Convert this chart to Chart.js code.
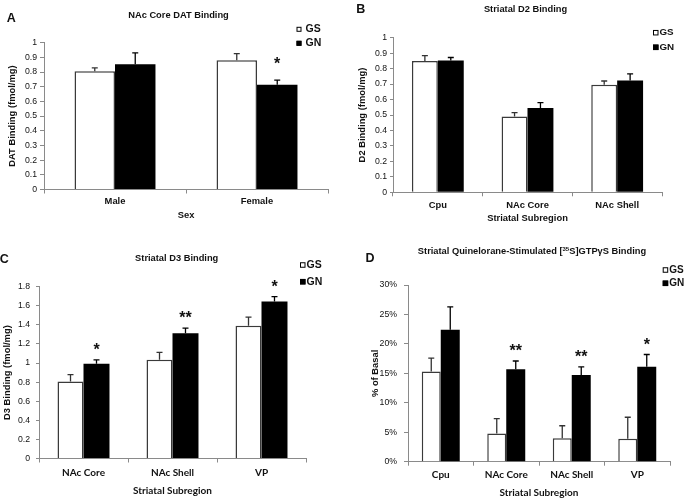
<!DOCTYPE html>
<html>
<head>
<meta charset="utf-8">
<script src="https://cdn.jsdelivr.net/npm/chart.js@4.4.1/dist/chart.umd.min.js"></script>
<style>
  body { margin: 0; background: #fff; }
  #wrap { position: relative; width: 685px; height: 499px; overflow: hidden; font-family: "Liberation Sans", Arial, sans-serif; color: #111; }
  canvas { position: absolute; }
  .judul { position: absolute; font-weight: bold; font-size: 9.3px; line-height: 1; white-space: nowrap; transform: translate(-50%, -50%); }
  .huruf { position: absolute; font-weight: bold; font-size: 12.5px; line-height: 1; transform: translate(-50%, -50%); }
  .judul sup { font-size: 6px; vertical-align: 3px; line-height: 0; }
</style>
</head>
<body>
<div id="wrap">
  <canvas id="chartA" width="342" height="250" style="left:0;top:0"></canvas>
  <canvas id="chartB" width="343" height="250" style="left:342px;top:0"></canvas>
  <canvas id="chartC" width="342" height="249" style="left:0;top:250px"></canvas>
  <canvas id="chartD" width="343" height="249" style="left:342px;top:250px"></canvas>

  <div class="huruf" style="left:11.2px;top:17.5px">A</div>
  <div class="huruf" style="left:360.8px;top:9.2px">B</div>
  <div class="huruf" style="left:4.2px;top:259.2px">C</div>
  <div class="huruf" style="left:370px;top:257.5px">D</div>

  <div class="judul" style="left:178.5px;top:16px">NAc Core DAT Binding</div>
  <div class="judul" style="left:525.5px;top:10px">Striatal D2 Binding</div>
  <div class="judul" style="left:176.7px;top:259px">Striatal D3 Binding</div>
  <div class="judul" style="left:532px;top:252px">Striatal Quinelorane-Stimulated [<sup>35</sup>S]GTPγS Binding</div>
</div>

<script>
// Data panel A: NAc Core DAT Binding
const sexLabels = ['Male', 'Female'];
const datGS = [0.806, 0.881];
const datGSErr = [0.023, 0.045];
const datGN = [0.854, 0.713];
const datGNErr = [0.077, 0.032];
const datGNSig = ['', '*'];

// Data panel B: Striatal D2 Binding
const d2Labels = ['Cpu', 'NAc Core', 'NAc Shell'];
const d2GS = [0.85, 0.49, 0.695];
const d2GSErr = [0.034, 0.026, 0.025];
const d2GN = [0.852, 0.546, 0.723];
const d2GNErr = [0.02, 0.034, 0.043];
const d2GNSig = ['', '', ''];

// Data panel C: Striatal D3 Binding
const d3Labels = ['NAc Core', 'NAc Shell', 'VP'];
const d3GS = [0.808, 1.034, 1.39];
const d3GSErr = [0.07, 0.077, 0.091];
const d3GN = [0.993, 1.313, 1.644];
const d3GNErr = [0.041, 0.053, 0.052];
const d3GNSig = ['*', '**', '*'];

// Data panel D: Quinelorane-stimulated GTPγS binding (% of basal)
const gtpLabels = ['Cpu', 'NAc Core', 'NAc Shell', 'VP'];
const gtpGS = [15.3, 4.8, 4.0, 3.9];
const gtpGSErr = [2.3, 2.5, 2.1, 3.65];
const gtpGN = [22.4, 15.7, 14.7, 16.1];
const gtpGNErr = [3.9, 1.4, 1.4, 2.1];
const gtpGNSig = ['', '**', '**', '*'];

// Label sumbu y
const yTicksTenth = ['0', '0.1', '0.2', '0.3', '0.4', '0.5', '0.6', '0.7', '0.8', '0.9', '1'];
const yTicksD3 = ['0', '0.2', '0.4', '0.6', '0.8', '1', '1.2', '1.4', '1.6', '1.8'];
const yTicksPct = ['0%', '5%', '10%', '15%', '20%', '25%', '30%'];

const ARIAL = '"Liberation Sans", Arial, sans-serif';
const axisColor = '#8a8a8a';
const textColor = '#111';

// Plugin untuk error bar dan tanda signifikansi
const errorBarPlugin = {
    id: 'errorBars',
    afterDatasetsDraw(chart, args, opts) {
        const ctx = chart.ctx;
        const yScale = chart.scales.y;
        chart.data.datasets.forEach((ds, di) => {
            const meta = chart.getDatasetMeta(di);
            meta.data.forEach((bar, i) => {
                const v = ds.data[i];
                const yBar = yScale.getPixelForValue(v);
                const yTop = yScale.getPixelForValue(v + ds.errors[i]);
                ctx.save();
                ctx.strokeStyle = ds.borderColor === '#000' ? '#000' : '#333';
                ctx.lineWidth = 1.3;
                ctx.beginPath();
                ctx.moveTo(bar.x, yBar);
                ctx.lineTo(bar.x, yTop);
                ctx.moveTo(bar.x - 3, yTop);
                ctx.lineTo(bar.x + 3, yTop);
                ctx.stroke();
                if (ds.sig && ds.sig[i]) {
                    ctx.fillStyle = textColor;
                    ctx.font = 'bold ' + opts.starSize + 'px ' + ARIAL;
                    ctx.textAlign = 'center';
                    ctx.textBaseline = 'alphabetic';
                    ctx.fillText(ds.sig[i], bar.x, yTop - opts.starGap + 0.57 * opts.starSize);
                }
                ctx.restore();
            });
        });
    }
};

// Plugin legenda kotak kecil (GS / GN)
const boxLegendPlugin = {
    id: 'boxLegend',
    afterDraw(chart, args, opts) {
        const ctx = chart.ctx;
        const s = opts.size;
        ctx.save();
        ctx.font = 'bold ' + opts.fontSize + 'px ' + ARIAL;
        ctx.textBaseline = 'middle';
        ctx.textAlign = 'left';
        chart.data.datasets.forEach((ds, i) => {
            const y = opts.y + i * opts.gap;
            ctx.fillStyle = ds.backgroundColor;
            ctx.fillRect(opts.x, y - s / 2, s, s);
            ctx.strokeStyle = '#000';
            ctx.lineWidth = 1;
            ctx.strokeRect(opts.x + 0.5, y - s / 2 + 0.5, s - 1, s - 1);
            ctx.fillStyle = textColor;
            ctx.fillText(ds.label, opts.x + s + opts.textGap, y);
        });
        ctx.restore();
    }
};

// Fungsi untuk membuat satu panel grafik
function buatGrafik(canvasId, cfg) {
    const ctx = document.getElementById(canvasId).getContext('2d');
    return new Chart(ctx, {
        type: 'bar',
        data: {
            labels: cfg.labels,
            datasets: [
                { label: 'GS', data: cfg.gs, errors: cfg.gsErr, backgroundColor: '#fff', borderColor: '#3a3a3a', borderWidth: 1.5 },
                { label: 'GN', data: cfg.gn, errors: cfg.gnErr, sig: cfg.gnSig, backgroundColor: '#000', borderColor: '#000', borderWidth: 0 }
            ]
        },
        options: {
            responsive: false,
            animation: false,
            layout: { padding: cfg.padding },
            datasets: { bar: { categoryPercentage: cfg.catPct, barPercentage: 1 } },
            scales: {
                x: {
                    grid: { drawOnChartArea: false, offset: true, tickLength: 4, color: axisColor },
                    border: { color: axisColor, width: 1 },
                    ticks: { color: textColor, font: cfg.xFont, padding: cfg.xPad, maxRotation: 0, autoSkip: false },
                    title: { display: true, text: cfg.xTitle, color: textColor, font: cfg.xFont, padding: { top: 0, bottom: 0 } },
                    afterFit: s => { s.height = cfg.xHeight; }
                },
                y: {
                    min: 0,
                    max: cfg.yMax,
                    grid: { drawOnChartArea: false, tickLength: cfg.yTickLen, color: axisColor },
                    border: { color: axisColor, width: 1 },
                    ticks: {
                        stepSize: cfg.yStep,
                        color: textColor,
                        font: { family: ARIAL, size: 8.7 },
                        padding: cfg.yPad,
                        callback: (v, i) => cfg.yTicks[i]
                    },
                    title: { display: true, text: cfg.yTitle, color: textColor, font: { family: ARIAL, size: 9.4, weight: 'bold' }, padding: { top: cfg.yTitlePad, bottom: 0 } },
                    afterFit: s => { s.width = cfg.yWidth; }
                }
            },
            plugins: {
                legend: { display: false },
                tooltip: { enabled: false },
                errorBars: { starSize: 16, starGap: cfg.starGap },
                boxLegend: cfg.legend
            }
        },
        plugins: [errorBarPlugin, boxLegendPlugin]
    });
}

const arialBold = { family: ARIAL, size: 9.4, weight: 'bold' };
const latoBold = { family: 'Lato, "Open Sans", sans-serif', size: 10, weight: 'bold' };

buatGrafik('chartA', {
    labels: sexLabels, gs: datGS, gsErr: datGSErr, gn: datGN, gnErr: datGNErr, gnSig: datGNSig,
    padding: { left: 0, right: 14, top: 42.7, bottom: 28.5 },
    yWidth: 44, xHeight: 32, catPct: 0.57,
    yMax: 1, yStep: 0.1, yTicks: yTicksTenth, yTickLen: 4, yPad: 3, yTitlePad: 7,
    yTitle: 'DAT Binding (fmol/mg)', xTitle: 'Sex', xFont: arialBold, xPad: 2.5,
    starGap: 20,
    legend: { x: 296.5, y: 29.3, gap: 14, size: 5, textGap: 4, fontSize: 10.5 }
});

buatGrafik('chartB', {
    labels: d2Labels, gs: d2GS, gsErr: d2GSErr, gn: d2GN, gnErr: d2GNErr, gnSig: d2GNSig,
    padding: { left: 0, right: 23, top: 37.7, bottom: 26.1 },
    yWidth: 51, xHeight: 31.6, catPct: 0.578,
    yMax: 1, yStep: 0.1, yTicks: yTicksTenth, yTickLen: 3, yPad: 3, yTitlePad: 14.4,
    yTitle: 'D2 Binding (fmol/mg)', xTitle: 'Striatal Subregion', xFont: arialBold, xPad: 3,
    starGap: 14,
    legend: { x: 311, y: 32.7, gap: 14.6, size: 5.5, textGap: 1, fontSize: 9.8 }
});

buatGrafik('chartC', {
    labels: d3Labels, gs: d3GS, gsErr: d3GSErr, gn: d3GN, gnErr: d3GNErr, gnSig: d3GNSig,
    padding: { left: 0, right: 36, top: 36.7, bottom: 2.3 },
    yWidth: 39, xHeight: 38.2, catPct: 0.584,
    yMax: 1.8, yStep: 0.2, yTicks: yTicksD3, yTickLen: 3, yPad: 6, yTitlePad: 1.4,
    yTitle: 'D3 Binding (fmol/mg)', xTitle: 'Striatal Subregion', xFont: latoBold, xPad: 4.5,
    starGap: 14,
    legend: { x: 300, y: 15, gap: 16.7, size: 5.5, textGap: 1, fontSize: 10.5 }
});

buatGrafik('chartD', {
    labels: gtpLabels, gs: gtpGS, gsErr: gtpGSErr, gn: gtpGN, gnErr: gtpGNErr, gnSig: gtpGNSig,
    padding: { left: 0, right: 15, top: 35, bottom: 0.7 },
    yWidth: 66, xHeight: 36.6, catPct: 0.58,
    yMax: 30, yStep: 5, yTicks: yTicksPct, yTickLen: 4, yPad: 7, yTitlePad: 27.4,
    yTitle: '% of Basal', xTitle: 'Striatal Subregion', xFont: latoBold, xPad: 3,
    starGap: 14,
    legend: { x: 320.7, y: 20, gap: 13.3, size: 5.5, textGap: 1, fontSize: 10 }
});
</script>
</body>
</html>
